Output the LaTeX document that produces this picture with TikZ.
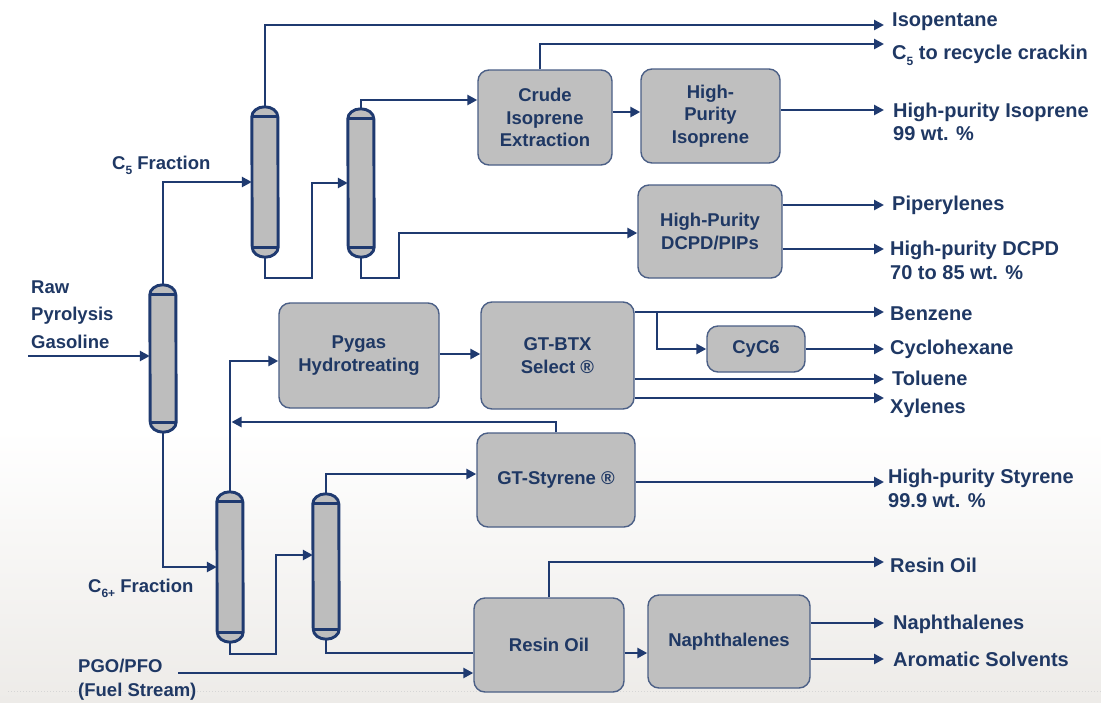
\documentclass[tikz,border=0pt]{standalone}
\usepackage{fontspec}
\setmainfont{Liberation Sans}
\usetikzlibrary{arrows.meta,calc}

\definecolor{navy}{HTML}{1F3A70}
\definecolor{inkblue}{HTML}{1F3864}
\definecolor{boxgray}{HTML}{BFBFBF}
\definecolor{towergray}{HTML}{BDBDBD}
\definecolor{boxedge}{HTML}{4B5F86}
\definecolor{floorgray}{HTML}{EDEBE8}
\definecolor{rulegray}{HTML}{D6D6D6}

\newcommand\lblfont{\fontsize{20}{24}\bfseries\selectfont}
\newcommand\sidefont{\fontsize{18.5}{22}\bfseries\selectfont}
\newcommand\unitfont{\fontsize{18.5}{22.5}\bfseries\selectfont}
\newcommand\subidx[1]{\raisebox{-0.3em}{\fontsize{12}{12}\selectfont #1}}

\tikzset{
  flow/.style={draw=navy, line width=2.9pt, -{Triangle[length=10pt,width=10pt]}},
  pipe/.style={draw=navy, line width=2.9pt},
  unit/.style={draw=boxedge, line width=1.4pt, fill=boxgray, rounded corners=11pt,
    align=center, font=\unitfont, text=inkblue, inner sep=0pt},
  tower/.style={inner sep=0pt, minimum width=26pt},
  lbl/.style={font=\lblfont, text=inkblue, anchor=base west, inner sep=0pt},
  sidelbl/.style={font=\sidefont, text=inkblue, anchor=base west, inner sep=0pt},
}

% distillation column drawn over a named tower node
\newcommand\drawtower[1]{%
  \draw[navy, line width=2.9pt, fill=towergray]
    ([yshift=-10pt]#1.north west) arc[start angle=180, end angle=0, x radius=13pt, y radius=10pt]
    -- ([yshift=10pt]#1.south east) arc[start angle=0, end angle=-180, x radius=13pt, y radius=10pt]
    -- cycle;
  \draw[navy, line width=2.9pt]
    ([yshift=-10pt]#1.north west) -- ([yshift=-10pt]#1.north east)
    ([yshift=10pt]#1.south west) -- ([yshift=10pt]#1.south east);
}

\begin{document}
\begin{tikzpicture}[x=1pt, y=-1pt]
\useasboundingbox (0,0) rectangle (1101,702);
\fill[white] (0,0) rectangle (1101,702);
\shade[top color=white, bottom color=floorgray] (0,430) rectangle (1101,702);
\draw[rulegray, line width=1pt, dotted] (8,691) -- (1101,691);

% process units
\node[unit, minimum width=134pt, minimum height=95pt] (crude)  at (545,117.5) {Crude\\Isoprene\\Extraction};
\node[unit, minimum width=139pt, minimum height=94pt] (hpiso)  at (710.5,116) {High-\\Purity\\Isoprene};
\node[unit, minimum width=144pt, minimum height=93pt] (dcpd)   at (710,231.5) {High-Purity\\DCPD/PIPs};
\node[unit, minimum width=160pt, minimum height=105pt] (pygas) at (359,355.5) {Pygas\\Hydrotreating};
\node[unit, minimum width=153pt, minimum height=107pt] (btx)   at (557.5,355.5) {GT-BTX\\Select ®};
\node[unit, minimum width=98pt, minimum height=46pt] (cyc6)    at (756,349) {CyC6};
\node[unit, minimum width=158pt, minimum height=94pt] (styrene) at (556,480) {GT-Styrene ®};
\node[unit, minimum width=150pt, minimum height=94pt] (resin)  at (549,645) {Resin Oil};
\node[unit, minimum width=162pt, minimum height=93pt] (naph)   at (729,641.5) {Naphthalenes};

% columns
\node[tower, minimum height=147pt] (c1) at (163,358.5) {};
\node[tower, minimum height=150pt] (c2) at (265,182) {};
\node[tower, minimum height=148pt] (c3) at (361,183) {};
\node[tower, minimum height=150pt] (c4) at (230,567) {};
\node[tower, minimum height=145pt] (c5) at (326,566.5) {};

% stream ends
\coordinate (feed) at (28,356);
\coordinate (pgo) at (178,673);
\coordinate (split) at (657,312);
\coordinate (o-isopentane) at (884,25);
\coordinate (o-c5) at (884,44);
\coordinate (o-isoprene) at (884,110);
\coordinate (o-pip) at (884,205);
\coordinate (o-dcpd) at (884,249);
\coordinate (o-benz) at (884,312);
\coordinate (o-cyhex) at (884,349);
\coordinate (o-tol) at (884,379);
\coordinate (o-xyl) at (884,398);
\coordinate (o-sty) at (884,482);
\coordinate (o-resin) at (884,562);
\coordinate (o-naph) at (884,623);
\coordinate (o-arom) at (884,659);

% C5 train
\draw[flow] (feed) -- (feed -| c1.west);
\draw[flow] (c1.north) |- (c2.west);
\draw[flow] (c2.north) |- (o-isopentane);
\draw[flow] (c2.south) |- (312,278) |- (c3.west);
\draw[flow] (c3.north) |- (crude.west |- 0,100);
\draw[flow] ([xshift=-5pt]crude.north) |- (o-c5);
\draw[flow] (crude.east |- 0,112) -- (hpiso.west |- 0,112);
\draw[flow] (hpiso.east |- o-isoprene) -- (o-isoprene);
\draw[flow] (c3.south) |- (399,278) |- (dcpd.west |- 0,233);
\draw[flow] (dcpd.east |- o-pip) -- (o-pip);
\draw[flow] (dcpd.east |- o-dcpd) -- (o-dcpd);

% C6+ train
\draw[flow] (c1.south) |- (c4.west);
\draw[flow] (c4.north) |- (pygas.west |- 0,361);
\draw[flow] (pygas.east |- 0,354) -- (btx.west |- 0,354);
\draw[flow] (btx.east |- o-benz) -- (o-benz);
\draw[flow] (split) |- (cyc6.west);
\draw[flow] (cyc6.east) -- (o-cyhex);
\draw[flow] (btx.east |- o-tol) -- (o-tol);
\draw[flow] (btx.east |- o-xyl) -- (o-xyl);
\draw[flow, shorten >=1.5pt] (styrene.north) |- (c4.north |- 0,422);
\draw[flow] (c4.south) |- (276,654) |- (c5.west |- 0,555);
\draw[flow] (c5.north) |- (styrene.west |- 0,474);
\draw[flow] (styrene.east |- o-sty) -- (o-sty);
\draw[pipe] (c5.south) |- (resin.west |- 0,653);
\draw[flow] (pgo) -- (resin.west |- pgo);
\draw[flow] (resin.north) |- (o-resin);
\draw[flow] (resin.east |- 0,653) -- (naph.west |- 0,653);
\draw[flow] (naph.east |- o-naph) -- (o-naph);
\draw[flow] (naph.east |- o-arom) -- (o-arom);

\drawtower{c1}
\drawtower{c2}
\drawtower{c3}
\drawtower{c4}
\drawtower{c5}

% feed labels
\node[sidelbl] (t-raw) at (31,293) {Raw};
\node[sidelbl] (t-pyro) at (31,320.5) {Pyrolysis};
\node[sidelbl] (t-gas) at (31,348) {Gasoline};
\node[sidelbl] (t-c5frac) at (112,169) {C\subidx{5} Fraction};
\node[sidelbl] (t-c6frac) at (88,592) {C\subidx{6+} Fraction};
\node[sidelbl] (t-pgo) at (78,672) {PGO/PFO};
\node[sidelbl] (t-fuel) at (78,696) {(Fuel Stream)};

% product labels
\node[lbl] (t-isopentane) at (892,26) {Isopentane};
\node[lbl] (t-c5) at (892,59) {C\subidx{5} to recycle crackin};
\node[lbl] (t-isoprene) at (893,117) {High-purity Isoprene};
\node[lbl] (t-isoprene2) at (893,140) {99 wt. \%};
\node[lbl] (t-pip) at (892,210) {Piperylenes};
\node[lbl] (t-dcpd) at (890,255) {High-purity DCPD};
\node[lbl] (t-dcpd2) at (890,279) {70 to 85 wt. \%};
\node[lbl] (t-benz) at (890,320) {Benzene};
\node[lbl] (t-cyhex) at (890,354) {Cyclohexane};
\node[lbl] (t-tol) at (892,385.5) {Toluene};
\node[lbl] (t-xyl) at (890,413) {Xylenes};
\node[lbl] (t-sty) at (888,483) {High-purity Styrene};
\node[lbl] (t-sty2) at (888,507) {99.9 wt. \%};
\node[lbl] (t-resin) at (890,572) {Resin Oil};
\node[lbl] (t-naph) at (893,629) {Naphthalenes};
\node[lbl] (t-arom) at (893,666) {Aromatic Solvents};
\end{tikzpicture}
\end{document}
